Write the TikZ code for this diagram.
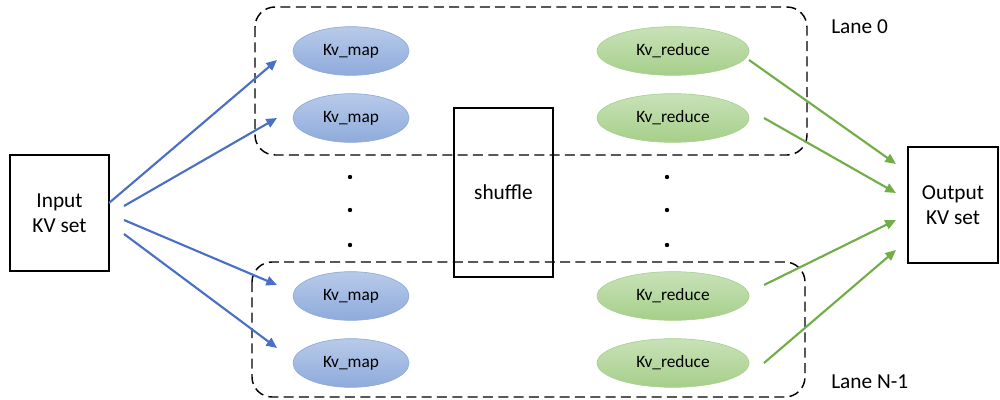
\documentclass[tikz,border=0pt]{standalone}
\usepackage{fontspec}
\setmainfont{Carlito}
\usetikzlibrary{arrows.meta}
\definecolor{mapfillA}{HTML}{B7CAE9}
\definecolor{mapfillB}{HTML}{8FABDC}
\definecolor{mapdraw}{HTML}{8FAADC}
\definecolor{redfillA}{HTML}{C8E2B8}
\definecolor{redfillB}{HTML}{A6CF8A}
\definecolor{reddraw}{HTML}{A9D18E}
\definecolor{bluearrow}{HTML}{4A70C6}
\definecolor{greenarrow}{HTML}{72AE48}
\tikzset{
  plainbox/.style={draw=black, line width=1.1pt, fill=white, inner sep=0pt, align=center, font=\fontsize{16}{19}\selectfont},
  lanebox/.style={draw=black, line width=1.1pt, dash pattern=on 7.5pt off 4pt, rounded corners=15pt},
  mapnode/.style={ellipse, draw=mapdraw, line width=0.5pt, top color=mapfillA, bottom color=mapfillB, minimum width=87pt, minimum height=36.5pt, inner sep=0pt, font=\fontsize{13}{15}\selectfont},
  rednode/.style={ellipse, draw=reddraw, line width=0.5pt, top color=redfillA, bottom color=redfillB, minimum width=114pt, minimum height=36.5pt, inner sep=0pt, font=\fontsize{13}{15}\selectfont},
  dotnode/.style={circle, fill=black, inner sep=0pt, minimum size=3.3pt},
  lanelabel/.style={font=\fontsize{16}{19}\selectfont, inner sep=0pt},
  bluearr/.style={draw=bluearrow, line width=1.6pt, -{Triangle[length=8pt,width=7pt]}},
  greenarr/.style={draw=greenarrow, line width=1.6pt, -{Triangle[length=8pt,width=7pt]}},
}
\usetikzlibrary{shapes.geometric}
\begin{document}
\begin{tikzpicture}[x=0.75pt,y=-0.75pt]
\useasboundingbox (0,0) rectangle (1000,400);
% lanes
\draw[lanebox] (255,7) rectangle (807,155);
\draw[lanebox] (252,262) rectangle (805,397);
% shuffle
\node[draw=black, line width=1.1pt, minimum width=74.25pt, minimum height=126.75pt, inner sep=0pt, font=\fontsize{16}{19}\selectfont] (sh) at (503.5,192.5) {shuffle};
% input/output
\node[plainbox, minimum width=74.25pt, minimum height=87pt] (in) at (59.5,213) {Input\\KV set};
\node[plainbox, minimum width=67.5pt, minimum height=87pt] (out) at (953,205) {Output\\KV set};
% maps
\node[mapnode] (m1) at (351,51) {Kv\_map};
\node[mapnode] (m2) at (351,118) {Kv\_map};
\node[mapnode] (m3) at (351,296) {Kv\_map};
\node[mapnode] (m4) at (351,363) {Kv\_map};
% reduces
\node[rednode] (r1) at (673,51) {Kv\_reduce};
\node[rednode] (r2) at (673,118) {Kv\_reduce};
\node[rednode] (r3) at (673,296) {Kv\_reduce};
\node[rednode] (r4) at (673,363) {Kv\_reduce};
% dots
\node[dotnode] (dl1) at (350,177) {};
\node[dotnode] (dl2) at (350,210) {};
\node[dotnode] (dl3) at (350,245) {};
\node[dotnode] (dr1) at (667,177) {};
\node[dotnode] (dr2) at (667,210) {};
\node[dotnode] (dr3) at (667,245) {};
% labels
\node[lanelabel, anchor=west] (l0) at (831,27) {Lane 0};
\node[lanelabel, anchor=west] (ln) at (831,382) {Lane N-1};
% arrow coordinates
\coordinate (ia1) at (109,203);
\coordinate (ia2) at (124,206);
\coordinate (ia3) at (124,220);
\coordinate (ia4) at (124,234);
\coordinate (ma1) at (277,60);
\coordinate (ma2) at (277,118);
\coordinate (ma3) at (277,285);
\coordinate (ma4) at (277,348);
\coordinate (ra1) at (749,60);
\coordinate (ra2) at (764,118);
\coordinate (ra3) at (764,285);
\coordinate (ra4) at (764,363);
\coordinate (oa1) at (896,164);
\coordinate (oa2) at (896,193);
\coordinate (oa3) at (896,220);
\coordinate (oa4) at (896,250);
\draw[bluearr] (ia1) -- (ma1);
\draw[bluearr] (ia2) -- (ma2);
\draw[bluearr] (ia3) -- (ma3);
\draw[bluearr] (ia4) -- (ma4);
\draw[greenarr] (ra1) -- (oa1);
\draw[greenarr] (ra2) -- (oa2);
\draw[greenarr] (ra3) -- (oa3);
\draw[greenarr] (ra4) -- (oa4);
\end{tikzpicture}
\end{document}
